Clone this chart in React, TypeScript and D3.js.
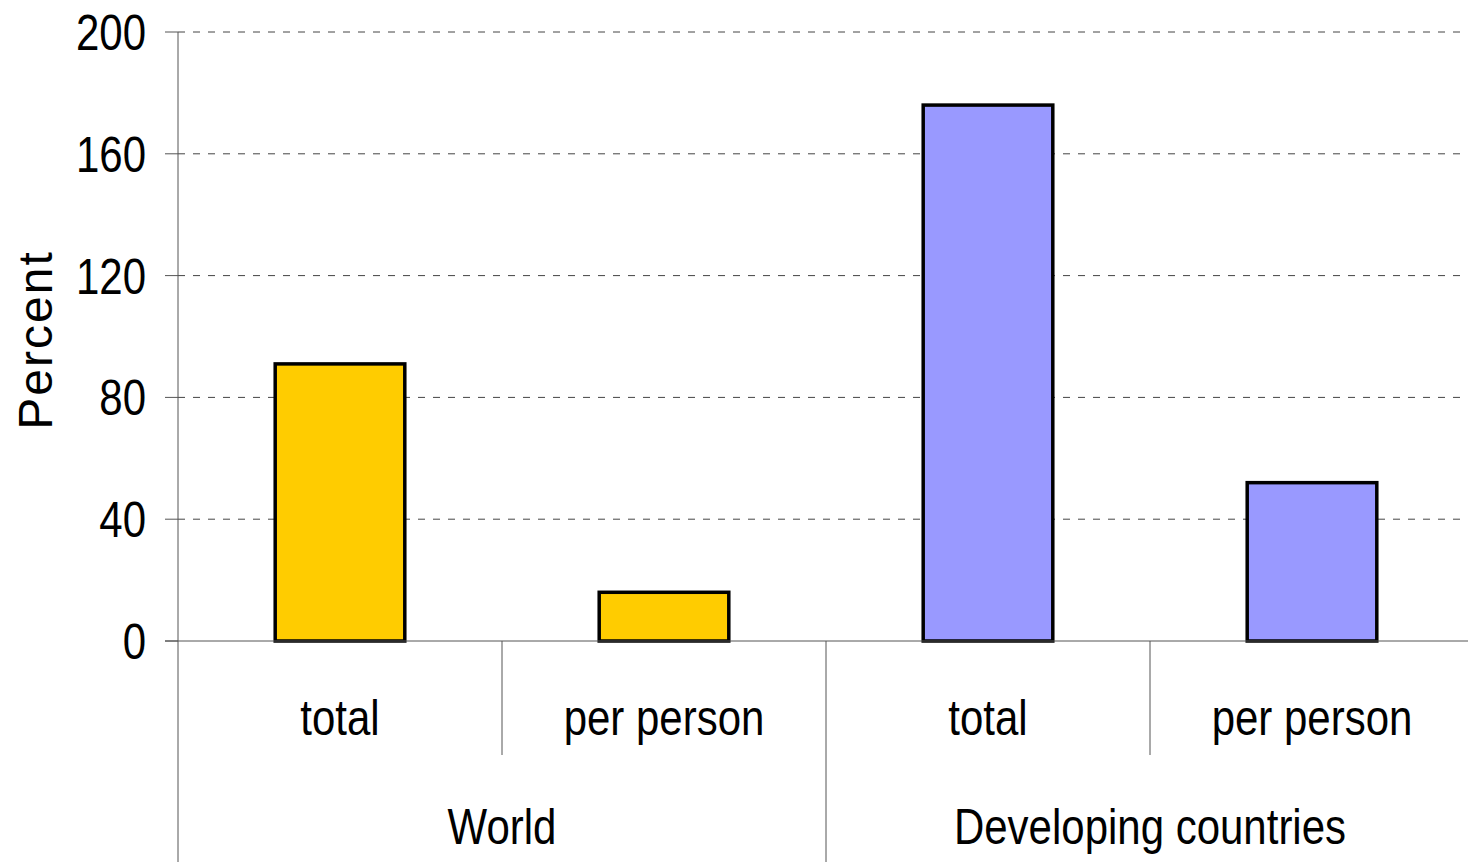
import React from "react";
import * as d3 from "d3";

const groups = ["World", "Developing countries"];
const subCategories = ["total", "per person"];
const worldValues = [91, 16];
const developingValues = [176, 52];
const groupColors = ["#FFCC00", "#9999FF"];
const yTicks = [0, 40, 80, 120, 160, 200];
const yLabel = "Percent";

const W = 1468;
const H = 862;
const left = 178;
const right = 1474;
const top = 32;
const bottom = 641;
const FONT = "'Liberation Sans', Arial, sans-serif";
const SX = 0.84;

function NarrowText({ x, y, anchor, children, dy }: any) {
  return (
    <text
      transform={`translate(${x},${y}) scale(${SX},1)`}
      dy={dy}
      textAnchor={anchor}
      fontFamily={FONT}
      fontSize={50}
      fill="#000"
    >
      {children}
    </text>
  );
}

export default function App() {
  const rows = [
    ...subCategories.map((s, i) => ({ group: 0, key: `0-${s}`, label: s, value: worldValues[i] })),
    ...subCategories.map((s, i) => ({ group: 1, key: `1-${s}`, label: s, value: developingValues[i] })),
  ];
  const x = d3.scaleBand<string>().domain(rows.map((r) => r.key)).range([left, right]).padding(0);
  const y = d3.scaleLinear().domain([0, 200]).range([bottom, top]);
  const bw = x.bandwidth();
  const barW = bw * 0.4;
  const groupW = bw * subCategories.length;

  return (
    <svg width={W} height={H} style={{ position: "absolute", left: 0, top: 0, background: "#fff" }}>
      {yTicks.map((t) => (
        <g key={t}>
          {t !== 0 && (
            <line x1={left} x2={W} y1={y(t)} y2={y(t)} stroke="#444" strokeWidth={1} strokeDasharray="7,8" />
          )}
          <line x1={165} x2={left} y1={y(t)} y2={y(t)} stroke="#555" strokeWidth={1} />
          <NarrowText x={146} y={y(t)} dy="0.36em" anchor="end">
            {t}
          </NarrowText>
        </g>
      ))}
      {rows.map((r) => (
        <rect
          key={r.key}
          x={(x(r.key) as number) + (bw - barW) / 2}
          y={y(r.value)}
          width={barW}
          height={y(0) - y(r.value)}
          fill={groupColors[r.group]}
          stroke="#000"
          strokeWidth={3.5}
        />
      ))}
      <line x1={165} x2={W} y1={y(0)} y2={y(0)} stroke="#555" strokeWidth={1} />
      <line x1={left} x2={left} y1={top} y2={H} stroke="#555" strokeWidth={1} />
      {rows.map((r, i) =>
        i === 0 ? null : (
          <line
            key={"sep" + r.key}
            x1={x(r.key) as number}
            x2={x(r.key) as number}
            y1={y(0)}
            y2={i % subCategories.length === 0 ? H : 755}
            stroke="#555"
            strokeWidth={1}
          />
        )
      )}
      {rows.map((r) => (
        <NarrowText key={"lab" + r.key} x={(x(r.key) as number) + bw / 2} y={735} anchor="middle">
          {r.label}
        </NarrowText>
      ))}
      {groups.map((g, gi) => (
        <NarrowText key={g} x={left + groupW * gi + groupW / 2} y={844} anchor="middle">
          {g}
        </NarrowText>
      ))}
      <text
        transform={`translate(52,${340}) rotate(-90)`}
        textAnchor="middle"
        fontFamily={FONT}
        fontSize={48}
        letterSpacing={2}
        fill="#000"
      >
        {yLabel}
      </text>
    </svg>
  );
}
